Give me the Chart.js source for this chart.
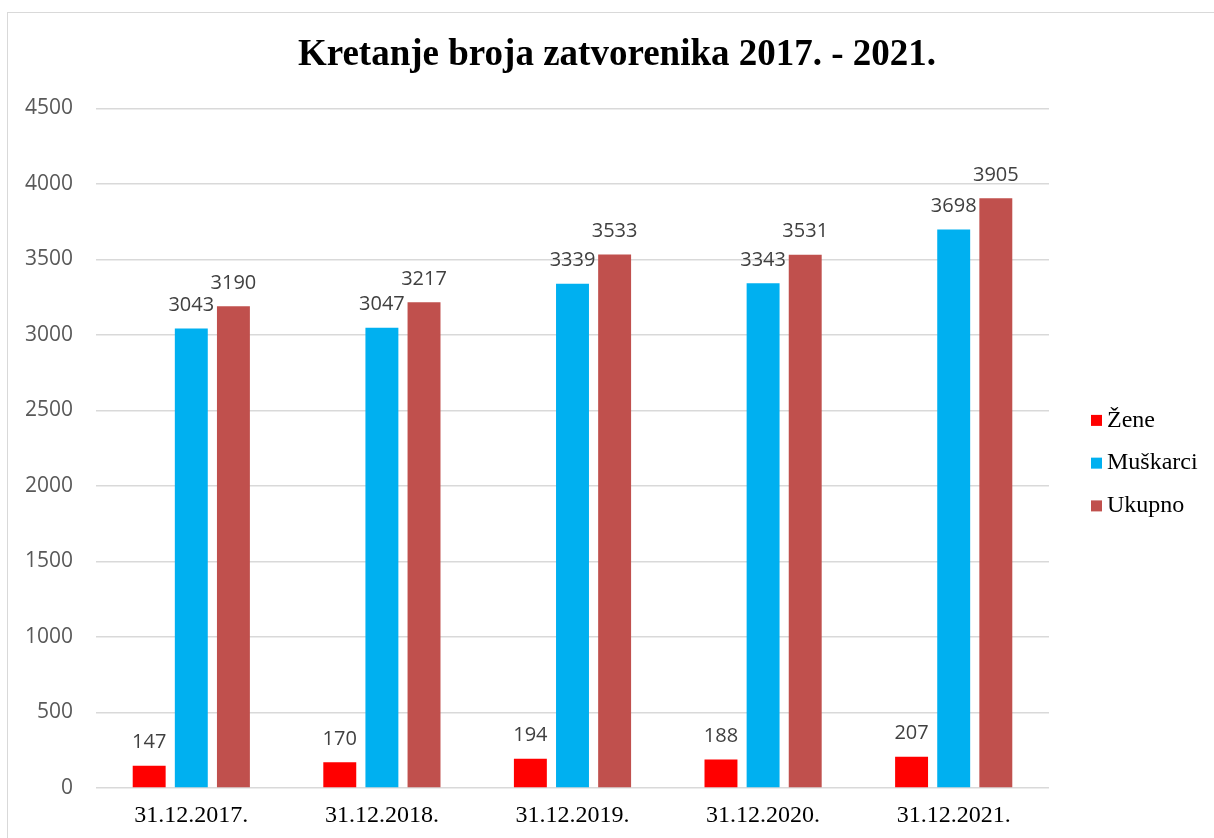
<!DOCTYPE html>
<html>
<head>
<meta charset="utf-8">
<script src="https://cdn.jsdelivr.net/npm/chart.js@4.4.1/dist/chart.umd.min.js"></script>
<style>
  html, body { margin: 0; padding: 0; background: #fff; overflow: hidden; }
  #wrap { position: relative; width: 1214px; height: 838px; }
  #frame { position: absolute; left: 7px; top: 12px; width: 1300px; height: 1000px; border: 1px solid #d9d9d9; pointer-events: none; }
  canvas { position: absolute; left: 0; top: 0; }
</style>
</head>
<body>
<div id="wrap">
  <canvas id="c" width="1214" height="838"></canvas>
  <div id="frame"></div>
</div>
<script>
const categories = ['31.12.2017.', '31.12.2018.', '31.12.2019.', '31.12.2020.', '31.12.2021.'];
const zene = [147, 170, 194, 188, 207];
const muskarci = [3043, 3047, 3339, 3343, 3698];
const ukupno = [3190, 3217, 3533, 3531, 3905];
const seriesNames = ['Žene', 'Muškarci', 'Ukupno'];
const seriesColors = ['#FF0000', '#00B0F0', '#C0504D'];
const yMax = 4500;
const yStep = 500;
const titleText = 'Kretanje broja zatvorenika 2017. - 2021.';

const valueLabels = {
  id: 'valueLabels',
  afterDatasetsDraw(chart) {
    const ctx = chart.ctx;
    ctx.save();
    ctx.font = '20px "Open Sans"';
    ctx.fillStyle = '#404040';
    ctx.textAlign = 'center';
    ctx.textBaseline = 'alphabetic';
    chart.data.datasets.forEach((ds, di) => {
      const meta = chart.getDatasetMeta(di);
      meta.data.forEach((el, i) => {
        ctx.fillText(String(ds.data[i]), el.x, el.y - 17.5);
      });
    });
    ctx.restore();
  }
};

const sideLegend = {
  id: 'sideLegend',
  afterDraw(chart) {
    const ctx = chart.ctx;
    const a = chart.chartArea;
    ctx.save();
    ctx.font = '24px "Liberation Serif"';
    ctx.textBaseline = 'middle';
    ctx.textAlign = 'left';
    chart.data.datasets.forEach((ds, i) => {
      const cy = a.top + 312 + i * 42.75;
      const bx = a.right + 42;
      ctx.fillStyle = ds.backgroundColor;
      ctx.fillRect(bx, cy - 5.5, 11, 11);
      ctx.fillStyle = '#000';
      ctx.fillText(ds.label, bx + 16, cy);
    });
    ctx.restore();
  }
};

new Chart(document.getElementById('c'), {
  type: 'bar',
  data: {
    labels: categories,
    datasets: [
      { label: seriesNames[0], data: zene, backgroundColor: seriesColors[0] },
      { label: seriesNames[1], data: muskarci, backgroundColor: seriesColors[1] },
      { label: seriesNames[2], data: ukupno, backgroundColor: seriesColors[2] }
    ]
  },
  options: {
    responsive: false,
    animation: false,
    devicePixelRatio: 1,
    categoryPercentage: 0.663,
    barPercentage: 0.782,
    layout: { padding: { left: 20, right: 0, top: 0, bottom: 0 } },
    plugins: {
      legend: { display: false },
      tooltip: { enabled: false },
      title: {
        display: true,
        text: titleText,
        color: '#000',
        font: { family: '"Liberation Serif"', size: 37, weight: 'bold', lineHeight: 1.2 },
        padding: { top: 33, bottom: 31 }
      }
    },
    scales: {
      x: {
        grid: { display: false, drawTicks: false },
        border: { display: false },
        ticks: { color: '#000', font: { family: '"Liberation Serif"', size: 24 }, padding: 13, maxRotation: 0 },
        afterFit(s) { s.height = 50; }
      },
      y: {
        min: 0,
        max: yMax,
        grid: { color: '#d9d9d9', lineWidth: 1.5, drawTicks: false },
        border: { display: false },
        ticks: {
          stepSize: yStep,
          color: '#595959',
          font: { family: '"Open Sans"', size: 21 },
          padding: 23,
          callback: (v) => String(v)
        },
        afterFit(s) { s.width = 76; }
      },
      yR: {
        position: 'right',
        display: true,
        grid: { display: false, drawTicks: false },
        border: { display: false },
        ticks: { display: false },
        afterFit(s) { s.width = 165; }
      }
    }
  },
  plugins: [valueLabels, sideLegend]
});
</script>
</body>
</html>
